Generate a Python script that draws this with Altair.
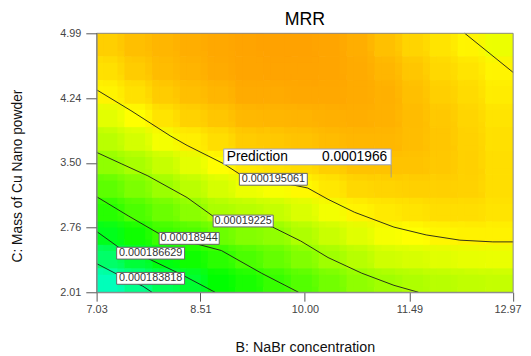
import altair as alt
import numpy as np
import pandas as pd

FONT = "Liberation Sans"

# ---------------- axis values ----------------
b_ticks = [7.03, 8.51, 10.00, 11.49, 12.97]
c_ticks = [2.01, 2.76, 3.50, 4.24, 4.99]
b_min, b_max = 7.03, 12.97
c_min, c_max = 2.01, 4.99
chart_title = ["MRR"]

# ---------------- response surface (MRR x 1e-6) ----------------
# read on a 15 (B) x 11 (C) grid; each list is one B-column, from C=4.99 down to C=2.01
mrr_e6_by_column = [
    [196.50, 195.95, 195.31, 194.23, 193.13, 191.95, 190.58, 189.06, 187.24, 185.13, 182.88],
    [197.00, 196.60, 195.90, 195.01, 193.83, 192.64, 191.42, 190.10, 188.45, 186.44, 184.19],
    [197.30, 197.10, 196.60, 195.80, 194.72, 193.46, 192.25, 190.93, 189.61, 187.60, 185.62],
    [197.50, 197.35, 197.00, 196.40, 195.50, 194.29, 193.12, 191.78, 190.15, 188.45, 186.70],
    [197.70, 197.60, 197.30, 196.80, 196.00, 195.02, 193.87, 192.67, 190.95, 189.14, 187.96],
    [197.85, 197.80, 197.60, 197.20, 196.60, 195.70, 194.47, 193.05, 191.59, 190.07, 188.65],
    [197.90, 197.85, 197.65, 197.30, 196.70, 195.90, 194.81, 193.41, 191.98, 190.77, 189.50],
    [197.90, 197.85, 197.70, 197.35, 196.85, 196.10, 195.15, 193.98, 192.79, 191.56, 190.29],
    [197.80, 197.80, 197.70, 197.45, 197.10, 196.50, 195.70, 194.70, 193.54, 192.39, 191.16],
    [197.50, 197.60, 197.60, 197.50, 197.25, 196.85, 196.20, 195.30, 194.17, 193.05, 191.92],
    [196.93, 197.28, 197.44, 197.43, 197.24, 196.87, 196.35, 195.63, 194.74, 193.67, 192.42],
    [196.35, 196.75, 197.00, 197.10, 197.05, 196.85, 196.45, 195.85, 195.01, 193.89, 192.77],
    [195.80, 196.20, 196.50, 196.70, 196.75, 196.70, 196.45, 196.05, 195.25, 194.17, 193.08],
    [195.30, 195.80, 196.10, 196.30, 196.40, 196.45, 196.40, 196.05, 195.40, 194.33, 193.28],
    [194.50, 195.30, 195.55, 195.80, 195.95, 196.05, 196.00, 195.80, 195.40, 194.43, 193.42],
]

# colour map (value x 1e-6 -> colour)
color_domain = [181, 188, 195, 203]
color_range = ["#00ffff", "#00ff00", "#ffff00", "#ff0000"]

# ---------------- contour lines ----------------
contour_names = ["0.000183818", "0.000186629", "0.00018944", "0.00019225", "0.000195061", "0.000195061 (b)"]
contour_b = [
    [7.03, 7.34, 7.69, 7.82],
    [7.03, 7.34, 7.76, 8.25, 8.72],
    [7.03, 7.48, 7.93, 8.81, 9.38, 9.91],
    [7.03, 7.38, 7.76, 8.32, 8.70, 9.54, 9.94, 10.33, 10.81, 11.27, 11.62],
    [7.03, 7.52, 8.08, 8.32, 8.84, 9.07, 10.04, 10.33, 10.71, 11.27, 11.73, 12.21, 12.68, 12.97],
    [12.28, 12.97],
]
contour_c = [
    [2.34, 2.21, 2.08, 2.01],
    [2.71, 2.53, 2.40, 2.21, 2.01],
    [3.11, 2.89, 2.68, 2.49, 2.23, 2.01],
    [3.62, 3.49, 3.35, 3.10, 2.88, 2.76, 2.60, 2.41, 2.23, 2.09, 2.01],
    [4.34, 4.10, 3.81, 3.70, 3.49, 3.37, 3.21, 3.08, 2.93, 2.76, 2.67, 2.61, 2.59, 2.59],
    [4.99, 4.54],
]

# contour labels
label_text = ["0.000195061", "0.00019225", "0.00018944", "0.000186629", "0.000183818"]
label_b = [9.55, 9.12, 8.35, 7.80, 7.80]
label_c = [3.31, 2.83, 2.63, 2.46, 2.17]

# prediction flag
pred_b = [11.23]
pred_c = [3.33]
pred_title = ["Prediction"]
pred_value = ["0.0001966"]

# ---------------- build tables ----------------
W, H = 423, 263
n_cols = len(mrr_e6_by_column)
n_rows = len(mrr_e6_by_column[0])
b_edges = np.linspace(b_min, b_max, n_cols + 1)
c_edges = np.linspace(c_max, c_min, n_rows + 1)
cells = []
for j, col in enumerate(mrr_e6_by_column):
    for i, v in enumerate(col):
        cells.append({"b": b_edges[j], "b2": b_edges[j + 1],
                      "c": c_edges[i + 1], "c2": c_edges[i], "mrr": v})
grid = pd.DataFrame(cells)

lines = []
for name, bs, cs_ in zip(contour_names, contour_b, contour_c):
    for k, (b, c) in enumerate(zip(bs, cs_)):
        lines.append({"line": name, "k": k, "b": b, "c": c})
lines = pd.DataFrame(lines)

labels = pd.DataFrame({"text": label_text, "b": label_b, "c": label_c})
labels["n"] = labels["text"].str.len()

pred = pd.DataFrame({"b": pred_b, "c": pred_c, "t": pred_title, "v": pred_value})
frame = pd.DataFrame({"b": [b_min], "b2": [b_max], "c": [c_min], "c2": [c_max]})
title_df = pd.DataFrame({"t": chart_title})

xs = alt.Scale(domain=[b_min, b_max], nice=False, zero=False)
ys = alt.Scale(domain=[c_min, c_max], nice=False, zero=False)
cs = alt.Scale(domain=color_domain, range=color_range, interpolate="rgb")

last_tick_test = "datum.value >= %g" % (b_max - 0.01)
x_axis = alt.Axis(values=b_ticks, format=".2f", tickSize=9, tickColor="#555",
                  domainColor="#888", labelColor="#444", labelFont=FONT,
                  labelFontSize=11, labelPadding=3, grid=False, labelFlush=False,
                  labelOverlap=False,
                  labelAlign={"condition": {"test": last_tick_test, "value": "right"},
                              "value": "center"},
                  labelOffset={"condition": {"test": last_tick_test, "value": 8},
                               "value": 0},
                  titleFont=FONT, titleFontSize=14.5, titleFontWeight="normal",
                  titleColor="#111", titleX=211.5, titleY=56, titleBaseline="middle",
                  zindex=1)
y_axis = alt.Axis(values=c_ticks, format=".2f", tickSize=11, tickColor="#555",
                  domainColor="#888", labelColor="#444", labelFont=FONT,
                  labelFontSize=11, labelPadding=5, grid=False, labelFlush=False,
                  labelOverlap=False,
                  titleFont=FONT, titleFontSize=14, titleFontWeight="normal",
                  titleColor="#111", titleX=-80, titleY=144.5, titleBaseline="middle",
                  titleAngle=-90, titleAlign="center", zindex=1)

X_TITLE = "B: NaBr concentration"
Y_TITLE = "C: Mass of Cu Nano powder"


def X():
    return alt.X("b:Q", scale=xs, axis=x_axis, title=X_TITLE)


def Y():
    return alt.Y("c:Q", scale=ys, axis=y_axis, title=Y_TITLE)


def heat_layer(dx, dy, opacity, stroked):
    props = dict(clip=True, xOffset=dx, yOffset=dy, opacity=opacity)
    enc = dict(x=X(), x2="b2:Q", y=Y(), y2="c2:Q",
               color=alt.Color("mrr:Q", scale=cs, legend=None))
    if stroked:
        props["strokeWidth"] = 0.6
        enc["stroke"] = alt.Stroke("mrr:Q", scale=cs, legend=None)
    else:
        props["strokeWidth"] = 0
    return alt.Chart(grid).mark_rect(**props).encode(**enc)


hq = W / n_cols / 4.0
vq = H / n_rows / 4.0
heat_layers = [
    heat_layer(0, 0, 1, True),
    heat_layer(-hq, -vq, 1, False),
    heat_layer(hq, -vq, 1 / 2, False),
    heat_layer(-hq, vq, 1 / 3, False),
    heat_layer(hq, vq, 1 / 4, False),
]

contours = alt.Chart(lines).mark_line(color="#1a1a1a", strokeWidth=0.9).encode(
    x=X(), y=Y(), detail="line:N", order="k:Q",
)


def label_layer(n, w):
    base = alt.Chart(labels).transform_filter(alt.datum.n == n)
    box = base.mark_rect(width=w, height=12, fill="white", stroke="#666",
                         strokeWidth=1).encode(x=X(), y=Y())
    txt = base.mark_text(font=FONT, fontSize=11, color="#333", baseline="middle",
                         align="center").encode(x=X(), y=Y(), text="text:N")
    return [box, txt]


frame_layer = alt.Chart(frame).mark_rect(fillOpacity=0, stroke="#888", strokeWidth=1).encode(
    x=X(), x2="b2:Q", y=Y(), y2="c2:Q")

pbase = alt.Chart(pred)
pflag = pbase.mark_tick(orient="vertical", size=13, thickness=1, yOffset=-6.5,
                        color="#7f8cbf").encode(x=X(), y=Y())
pbox = pbase.mark_rect(width=170, height=16, xOffset=-85, yOffset=-21, fill="white",
                       stroke="#9aa3c8", strokeWidth=1).encode(x=X(), y=Y())
ptitle = pbase.mark_text(font=FONT, fontSize=14, align="left", baseline="middle",
                         dx=-167, dy=-21, color="#000").encode(x=X(), y=Y(), text="t:N")
pvalue = pbase.mark_text(font=FONT, fontSize=14, align="right", baseline="middle",
                         dx=-4, dy=-21, color="#000").encode(x=X(), y=Y(), text="v:N")

title_layer = alt.Chart(title_df).mark_text(
    font=FONT, fontSize=18, color="#000", align="center", baseline="alphabetic"
).encode(x=alt.value(W / 2), y=alt.value(-8), text="t:N")

chart = alt.layer(
    *heat_layers, contours, frame_layer,
    *label_layer(11, 69), *label_layer(10, 61),
    pflag, pbox, ptitle, pvalue, title_layer,
).properties(
    width=W, height=H,
    autosize=alt.AutoSizeParams(type="none"),
    padding={"left": 90, "top": 23, "right": 10, "bottom": 62},
).configure_view(stroke=None)

chart.save("out.html", embed_options={"renderer": "svg", "actions": False})
